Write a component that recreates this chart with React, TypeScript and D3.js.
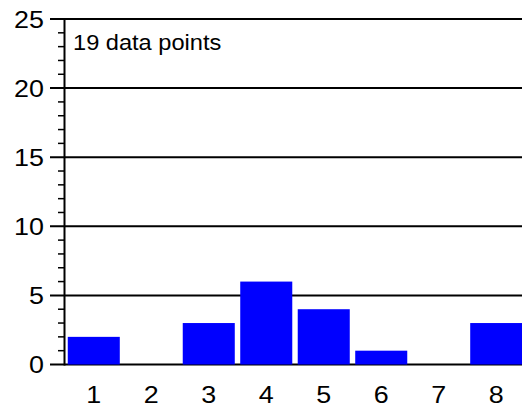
import React from "react";
import * as d3 from "d3";

const categories = ["1", "2", "3", "4", "5", "6", "7", "8"];
const counts = [2, 0, 3, 6, 4, 1, 0, 3];
const yMajorTicks = [0, 5, 10, 15, 20, 25];
const annotation = "19 data points";

const W = 522;
const H = 407;

export default function App() {
  const x = d3
    .scaleBand<string>()
    .domain(categories)
    .range([65, 525])
    .paddingInner(0.095)
    .paddingOuter(0.048);
  const y = d3.scaleLinear().domain([0, 25]).range([364.5, 19]);
  const minor = d3.range(0, 26, 1).filter((v) => v % 5 !== 0);
  const font = "Arial, 'Liberation Sans', sans-serif";
  const sx = 1.12;
  return (
    <svg
      width={W}
      height={H}
      style={{ position: "fixed", left: 0, top: 0, background: "#fff" }}
      fontFamily={font}
    >
      <rect x={0} y={0} width={W} height={H} fill="#fff" />
      {yMajorTicks.map((v) => (
        <line key={"g" + v} x1={50} x2={W} y1={y(v)} y2={y(v)} stroke="#000" strokeWidth={2} />
      ))}
      {minor.map((v) => (
        <line key={"m" + v} x1={58} x2={65} y1={y(v)} y2={y(v)} stroke="#000" strokeWidth={1.5} />
      ))}
      {counts.map((c, i) => (
        <rect
          key={"b" + i}
          x={x(categories[i])}
          width={x.bandwidth()}
          y={y(c)}
          height={y(0) - y(c)}
          fill="#0000ff"
        />
      ))}
      <line x1={64.5} x2={64.5} y1={y(25)} y2={y(0) + 1} stroke="#000" strokeWidth={2} />
      {yMajorTicks.map((v) => (
        <text
          key={"t" + v}
          transform={`translate(44,${y(v)}) scale(${sx},1)`}
          dy="0.36em"
          textAnchor="end"
          fontSize={24}
          fill="#000"
        >
          {v}
        </text>
      ))}
      {categories.map((c) => (
        <text
          key={"x" + c}
          transform={`translate(${(x(c) as number) + x.bandwidth() / 2},403) scale(${sx},1)`}
          textAnchor="middle"
          fontSize={24}
          fill="#000"
        >
          {c}
        </text>
      ))}
      <text transform={`translate(73,50) scale(1.05,1)`} fontSize={22.5} fill="#000">
        {annotation}
      </text>
    </svg>
  );
}
